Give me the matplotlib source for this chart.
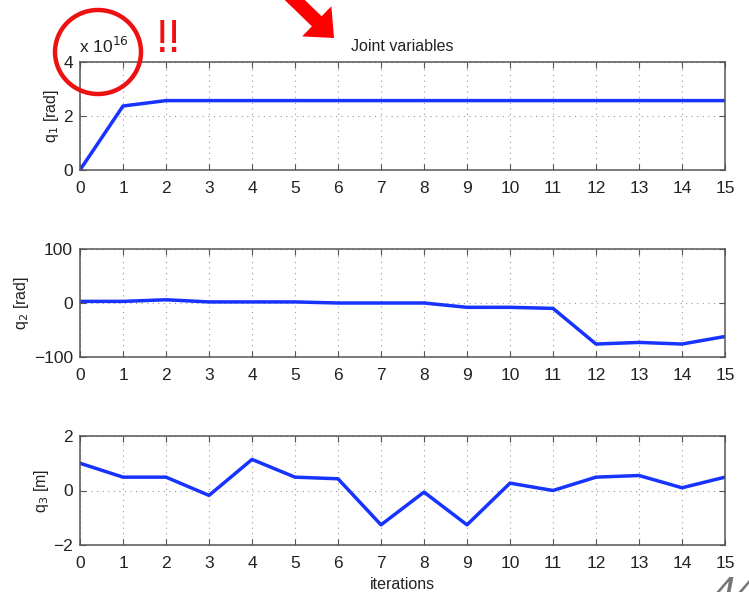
import numpy as np
import matplotlib
matplotlib.use("Agg")
import matplotlib.pyplot as plt
import matplotlib.patches as mpatches
from matplotlib.ticker import FuncFormatter

plt.rcParams['font.family'] = ['Liberation Sans', 'DejaVu Sans']

# data
iterations = list(range(16))
q1 = [0.0, 2.37e16, 2.57e16, 2.57e16, 2.57e16, 2.57e16, 2.57e16, 2.57e16,
      2.57e16, 2.57e16, 2.57e16, 2.57e16, 2.57e16, 2.57e16, 2.57e16, 2.57e16]
q2 = [3, 3, 6, 2, 2, 2, 0, 0, 0, -8, -8, -10, -76, -73, -76, -62]
q3 = [1.0, 0.49, 0.49, -0.18, 1.14, 0.49, 0.43, -1.26, -0.06, -1.26,
      0.27, 0.0, 0.49, 0.55, 0.1, 0.49]

ylabels = ['q$_1$ [rad]', 'q$_2$ [rad]', 'q$_3$ [m]']
yticks = [[0, 2e16, 4e16], [-100, 0, 100], [-2, 0, 2]]
ylims = [(0, 4e16), (-100, 100), (-2, 2)]

W, H = 749, 592
fig = plt.figure(figsize=(W / 100, H / 100), dpi=100)

# axes boxes in pixels: (left, top, right, bottom)
boxes = [(80, 62, 725, 170), (80, 249, 725, 357), (80, 436, 725, 545)]
line_col = '#1733ff'
txt_col = '#222222'

axes = []
for i, (l, t, r, b) in enumerate(boxes):
    ax = fig.add_axes([l / W, 1 - b / H, (r - l) / W, (b - t) / H])
    axes.append(ax)
    ax.plot(iterations, [q1, q2, q3][i], color=line_col, lw=2.5,
            solid_joinstyle='round')
    ax.set_xlim(0, 15)
    ax.set_ylim(*ylims[i])
    ax.set_xticks(iterations)
    ax.set_yticks(yticks[i])
    ax.grid(True, linestyle=(0, (1, 4)), color='#9a9a9a', linewidth=0.8)
    ax.tick_params(direction='in', length=4, width=0.8, top=True, right=True,
                   labelsize=12.5, colors='#555555', labelcolor=txt_col)
    ax.tick_params(axis='x', pad=8)
    ax.tick_params(axis='y', pad=5)
    for s in ax.spines.values():
        s.set_color('#555555')
        s.set_linewidth(1.1)
    ax.set_ylabel(ylabels[i], fontsize=11.5, color=txt_col, labelpad=2)

# q1 axis in units of 1e16, like MATLAB's exponent label
axes[0].yaxis.set_major_formatter(FuncFormatter(lambda v, p: '%g' % (v / 1e16)))
fig.text(79 / W, 1 - 53 / H, 'x 10$^{16}$', fontsize=12.5, color=txt_col)

axes[0].set_title('Joint variables', fontsize=11.5, color=txt_col, pad=8)
axes[2].set_xlabel('iterations', fontsize=11.5, color=txt_col, labelpad=4)

# red highlight: circle, "!!", arrow
circ = mpatches.Ellipse((98 / W, 1 - 52 / H), 86 / W, 84 / H,
                        transform=fig.transFigure, fill=False,
                        edgecolor='#ee1111', linewidth=3.2)
fig.add_artist(circ)
fig.text(169 / W, 1 - 52 / H, '!!', fontsize=33, color='#ee1111',
         ha='center', va='baseline')
arr = mpatches.FancyArrow(2.70, (H + 24) / 100, 0.64, -0.62,
                          width=0.14, head_width=0.42, head_length=0.24,
                          length_includes_head=True,
                          transform=fig.dpi_scale_trans,
                          color='#ff0000', linewidth=0)
fig.add_artist(arr)

# page number, cut off at the bottom edge as in the slide
fig.text(712 / W, -14 / H, '44', fontsize=30, style='italic',
         color='#777777', fontweight='light')

fig.savefig('out.png', dpi=100)
